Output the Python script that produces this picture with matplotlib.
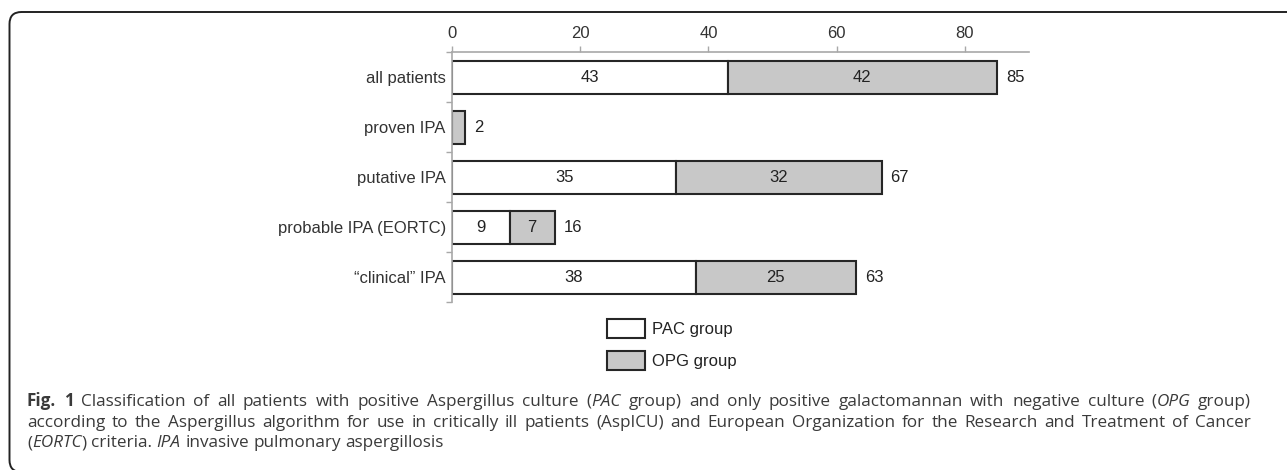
import matplotlib
matplotlib.use("Agg")
import matplotlib.pyplot as plt
from matplotlib.patches import Patch, FancyBboxPatch
from matplotlib.ticker import FixedLocator
from matplotlib.transforms import IdentityTransform

# data
categories = ["all patients", "proven IPA", "putative IPA",
              "probable IPA (EORTC)", "\u201cclinical\u201d IPA"]
pac = [43, 0, 35, 9, 38]
opg = [42, 2, 32, 7, 25]
totals = [a + b for a, b in zip(pac, opg)]
xticks = [0, 20, 40, 60, 80]
legend_labels = ["PAC group", "OPG group"]

caption_lines = [
    "#Fig. 1# Classification of all patients with positive Aspergillus culture (*PAC* group) and only positive galactomannan with negative culture (*OPG* group)",
    "according to the Aspergillus algorithm for use in critically ill patients (AspICU) and European Organization for the Research and Treatment of Cancer",
    "(*EORTC*) criteria. *IPA* invasive pulmonary aspergillosis",
]

W, H = 1287, 470
plt.rcParams['font.family'] = ['Liberation Sans', 'DejaVu Sans']
fig = plt.figure(figsize=(W / 100, H / 100), dpi=100)

ax = fig.add_axes([452 / W, 1 - 302 / H, (1029 - 452) / W, 250 / H])
y = list(range(len(categories)))
edge = '#262626'
ax.barh(y, pac, height=0.66, color='white', edgecolor=edge, lw=1.5)
ax.barh(y, opg, left=pac, height=0.66, color='#c8c8c8', edgecolor=edge, lw=1.5)

for i in y:
    if pac[i] >= 5:
        ax.text(pac[i] / 2, i, str(pac[i]), ha='center', va='center', fontsize=12, color='#222')
    if opg[i] >= 5:
        ax.text(pac[i] + opg[i] / 2, i, str(opg[i]), ha='center', va='center', fontsize=12, color='#222')
    ax.annotate(str(totals[i]), (totals[i], i), xytext=(6.5, 0), textcoords='offset points',
                ha='left', va='center', fontsize=12, color='#222')

ax.set_xlim(0, 90)
ax.set_ylim(len(categories) - 0.5, -0.5)
ax.xaxis.tick_top()
ax.set_xticks(xticks)
ax.set_yticks(y)
ax.set_yticklabels(categories)
ax.yaxis.set_minor_locator(FixedLocator([i - 0.5 for i in range(len(categories) + 1)]))
grey = '#a8a8a8'
ax.tick_params(axis='x', which='major', direction='out', length=4, color=grey, width=1,
               labelsize=12, labelcolor='#333', pad=4)
ax.tick_params(axis='y', which='major', length=0, labelsize=12, labelcolor='#333', pad=4.5)
ax.tick_params(axis='y', which='minor', direction='out', length=4, color=grey, width=1)
for s in ['right', 'bottom']:
    ax.spines[s].set_visible(False)
for s in ['top', 'left']:
    ax.spines[s].set_color(grey)
    ax.spines[s].set_linewidth(1.2)

handles = [Patch(facecolor='white', edgecolor=edge, lw=1.5),
           Patch(facecolor='#c8c8c8', edgecolor=edge, lw=1.5)]
fig.legend(handles, legend_labels, loc='upper left', bbox_to_anchor=(607 / W, 1 - 319 / H),
           frameon=False, fontsize=12, handlelength=2.25, handleheight=1.35,
           handletextpad=0.47, labelspacing=0.8, borderpad=0, borderaxespad=0,
           labelcolor='#222')

# rounded frame around the figure
frame = FancyBboxPatch((9.5, -2), 1300, 460, boxstyle="round,pad=0,rounding_size=12",
                       transform=IdentityTransform(), fill=False, ec='#222', lw=1.4)
fig.add_artist(frame)

# caption, justified like the journal layout
renderer = fig.canvas.get_renderer()
cap_font = ['Open Sans', 'DejaVu Sans']
cap_size = 12.3


def parse(line):
    words, italic, bold = [], False, False
    for w in line.split(' '):
        pieces, cur = [], ''
        for ch in w:
            if ch in '*#':
                if cur:
                    pieces.append((cur, italic, bold))
                cur = ''
                if ch == '*':
                    italic = not italic
                else:
                    bold = not bold
            else:
                cur += ch
        if cur:
            pieces.append((cur, italic, bold))
        words.append(pieces)
    return words


def make(txt, italic, bold, x, yb):
    return fig.text(x / W, 1 - yb / H, txt, fontsize=cap_size, family=cap_font,
                    style='italic' if italic else 'normal',
                    weight='bold' if bold else 'normal', color='#3a3a3a',
                    ha='left', va='baseline')


probe = make('a a', False, False, 0, -50)
probe2 = make('aa', False, False, 0, -50)
space = probe.get_window_extent(renderer).width - probe2.get_window_extent(renderer).width
probe.remove()
probe2.remove()

x0, x1 = 27, 1251
baselines = [406, 427, 447]
for k, line in enumerate(caption_lines):
    words = parse(line)
    arts = []
    widths = []
    for pieces in words:
        row = []
        wsum = 0
        for txt, it, bd in pieces:
            t = make(txt, it, bd, 0, baselines[k])
            wd = t.get_window_extent(renderer).width
            row.append((t, wd))
            wsum += wd
        arts.append(row)
        widths.append(wsum)
    if k < len(caption_lines) - 1:
        gap = (x1 - x0 - sum(widths)) / (len(words) - 1)
    else:
        gap = space
    x = x0
    for row, wsum in zip(arts, widths):
        for t, wd in row:
            t.set_x(x / W)
            x += wd
        x += gap

fig.savefig('out.png', dpi=100)
